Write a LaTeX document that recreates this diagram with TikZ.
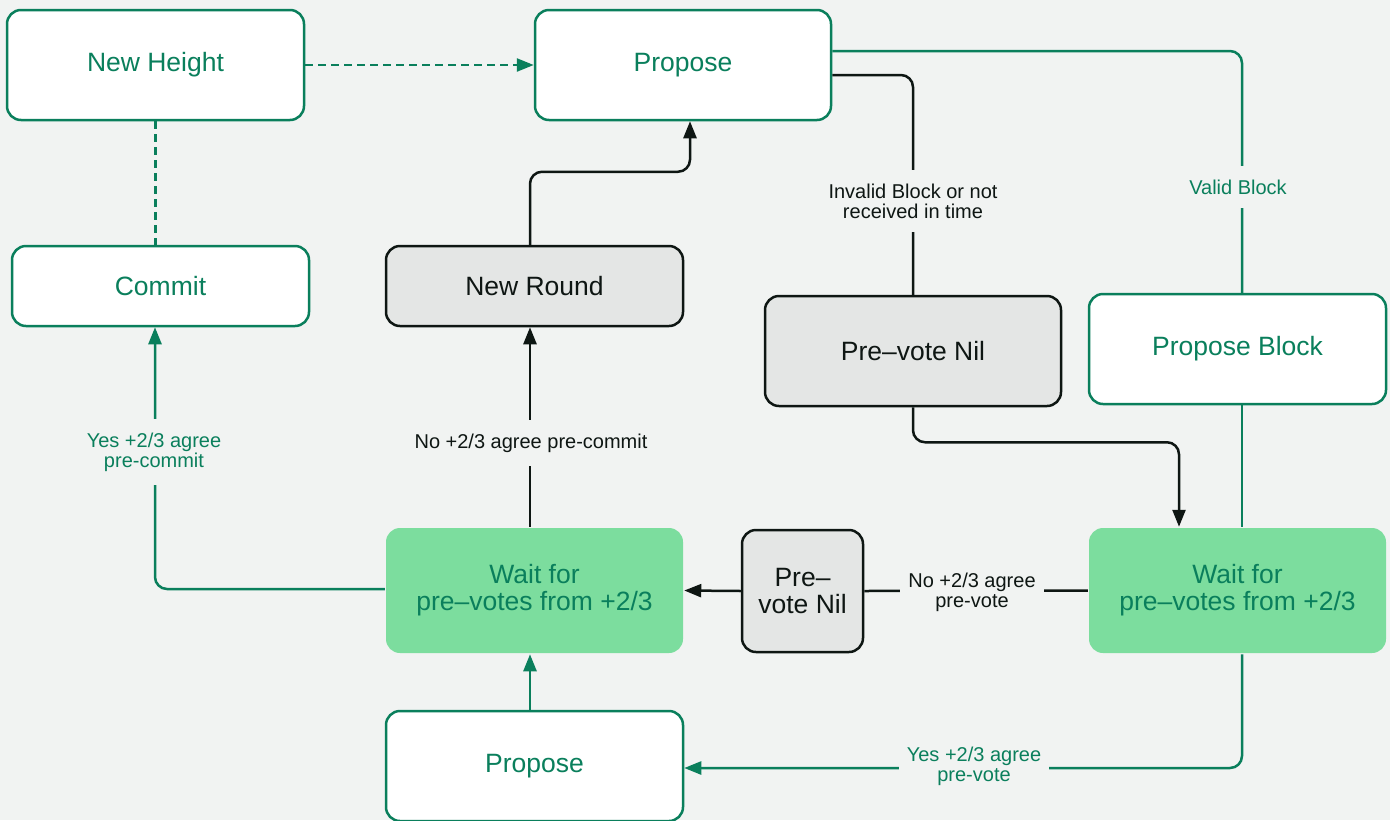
\documentclass[tikz,border=0pt]{standalone}
\usepackage{fontspec}
\setmainfont{Liberation Sans}
\usetikzlibrary{arrows.meta}
\definecolor{bg}{HTML}{F1F3F2}
\definecolor{gr}{HTML}{0A7F5C}
\definecolor{lg}{HTML}{7CDD9E}
\definecolor{gy}{HTML}{E4E6E5}
\definecolor{bk}{HTML}{0E1613}
\begin{document}
\begin{tikzpicture}[x=1pt,y=-1pt,
 box/.style={rounded corners=14pt, line width=2.5pt, minimum width=297pt, minimum height=110pt, align=center, font=\fontsize{26.5}{27}\selectfont, inner sep=0pt},
 wbox/.style={box, draw=gr, fill=white, text=gr},
 gbox/.style={box, draw=bk, fill=gy, text=bk},
 lbox/.style={box, fill=lg, text=gr},
 ln/.style={line width=2.5pt, rounded corners=12pt},
 gl/.style={ln, draw=gr},
 bl/.style={ln, draw=bk},
 tip/.style={-{Triangle[length=17pt,width=13pt]}},
 dsh/.style={dash pattern=on 8pt off 5pt},
 lab/.style={fill=bg, text=bk, font=\fontsize{20}{20}\selectfont, align=center, inner xsep=8pt, inner ysep=14pt},
 glab/.style={lab, text=gr},
]
\useasboundingbox (0,0) rectangle (1390,820);
\fill[bg] (0,0) rectangle (1390,820);

\node[wbox] (nh) at (155.5,65) {New Height};
\node[wbox, minimum width=296pt] (p1) at (683,65) {Propose};
\node[wbox, minimum height=80pt] (cm) at (160.5,286) {Commit};
\node[gbox, minimum height=80pt] (nr) at (534.5,286) {New Round};
\node[gbox, minimum width=296pt] (pn) at (913,351) {Pre–vote Nil};
\node[wbox] (pb) at (1237.5,349) {Propose Block};
\node[lbox, minimum height=125pt] (w1) at (534.5,590.5) {Wait for\\pre–votes from +2/3};
\node[gbox, minimum width=121pt, minimum height=122pt] (pn2) at (802.5,591) {Pre–\\vote Nil};
\node[lbox, minimum height=125pt] (w2) at (1237.5,590.5) {Wait for\\pre–votes from +2/3};
\node[wbox] (p2) at (534.5,766) {Propose};

% connectors
\draw[gl, dsh, tip] (nh.east) -- (p1.west);
\draw[gl, dsh] (nh.south) -- (nh.south |- cm.north);
\draw[bl, tip] ([xshift=-4.5pt]nr.north) -- ++(0,-73) -| ([xshift=7pt]p1.south);
\draw[bl] ([yshift=-10pt]p1.east) -| (pn.north);
\node[lab] (l1) at (913,201) {Invalid Block or not\\received in time};
\draw[gl] ([yshift=14pt]p1.east) -| ([xshift=4.5pt]pb.north);
\node[glab] (l2) at (1238,187) {Valid Block};
\draw[gl] ([xshift=4.5pt]pb.south) -- ([xshift=4.5pt]w2.north);
\draw[bl, tip] (pn.south) -- ++(0,35) -| ([xshift=-58.5pt]w2.north);
\draw[bl] (w2.west) -- (pn2.east);
\node[lab] (l3) at (972,592) {No +2/3 agree\\pre-vote};
\draw[bl, tip] (pn2.west) -- (w1.east);
\draw[bl, tip] ([xshift=-4.5pt]w1.north) -- ([xshift=-4.5pt]nr.south);
\node[lab] (l4) at (531,443) {No +2/3 agree pre-commit};
\draw[gl, tip] ([yshift=1.5pt]w1.west) -| ([xshift=-5.5pt]cm.south);
\node[glab] (l5) at (154,452) {Yes +2/3 agree\\pre-commit};
\draw[gl, tip] ([xshift=4.5pt]w2.south) |- ([yshift=-2pt]p2.east);
\node[glab] (l6) at (974,766) {Yes +2/3 agree\\pre-vote};
\draw[gl, tip] ([xshift=-4.5pt]p2.north) -- ([xshift=-4.5pt]w1.south);
\end{tikzpicture}
\end{document}
